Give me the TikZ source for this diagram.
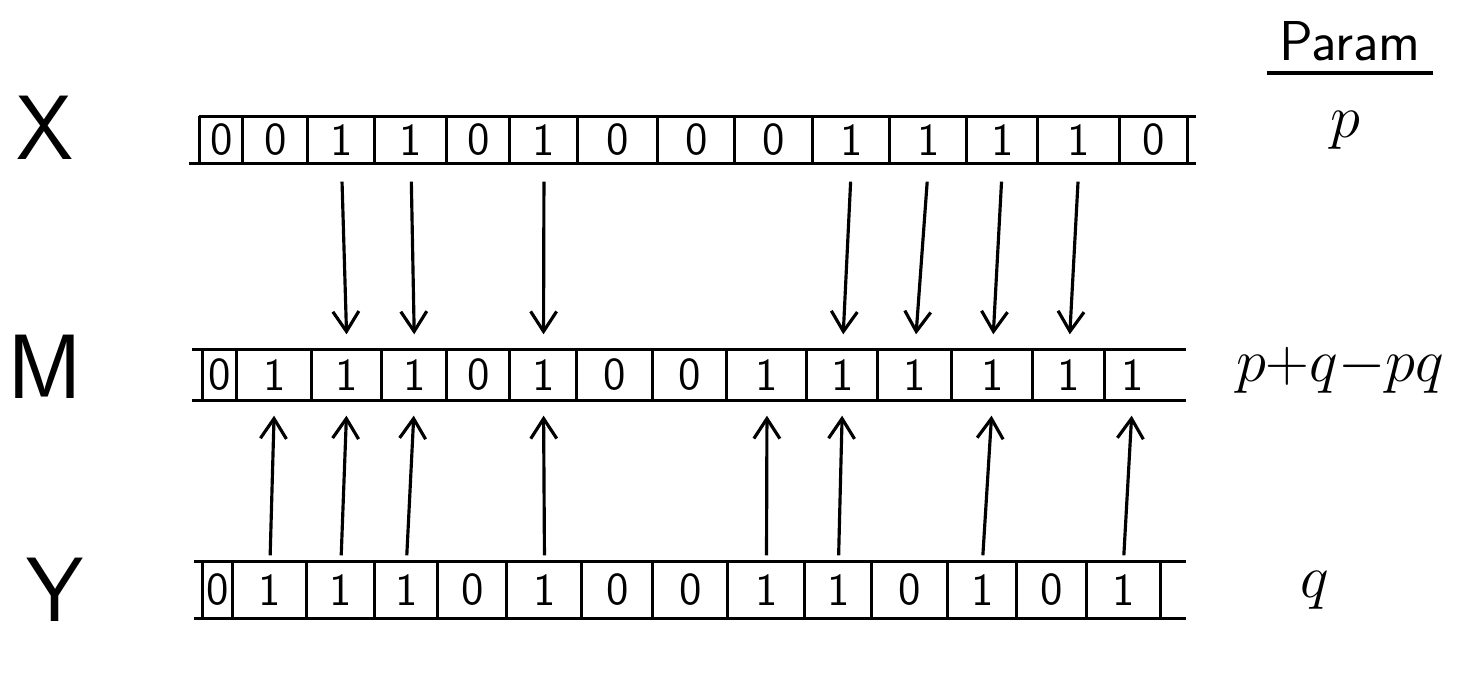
\documentclass[tikz,border=0pt]{standalone}
\usepackage{tikz}
\usetikzlibrary{arrows.meta, positioning, calc}

\begin{document}
\begin{tikzpicture}[
  cellnode/.style={inner sep=0pt, font=\fontsize{13}{15}\sffamily},
  band/.style={line width=0.9pt},
  rowname/.style={font=\fontsize{26}{30}\sffamily},
  parlabel/.style={font=\fontsize{17}{20}\selectfont},
  orarrow/.style={-{Straight Barb[length=2mm,width=2.6mm]}, line width=0.9pt}
]
  \useasboundingbox (0,0) rectangle (14.57,6.86);

  \node[rowname] (xname) at (0.45,5.58) {X};
  \node[rowname] (mname) at (0.45,3.19) {M};
  \node[rowname] (yname) at (0.55,0.96) {Y};

  \foreach \a/\b/\v [count=\i] in {2.00/2.43/0, 2.43/3.08/0, 3.08/3.75/1, 3.75/4.47/1, 4.47/5.10/0, 5.10/5.78/1, 5.78/6.58/0, 6.58/7.35/0, 7.35/8.13/0, 8.13/8.90/1, 8.90/9.67/1, 9.67/10.38/1, 10.38/11.20/1, 11.20/11.87/0} {
    \node[cellnode, minimum width={(\b-\a)*1cm}, minimum height=0.46cm] (x\i) at ({(\a+\b)/2},5.46) {\v};
    \draw[band] (x\i.north west) -- (x\i.south west);
  }
  \draw[band] (x14.north east) -- (x14.south east);
  \draw[band] (x1.north west) -- ([xshift=0.8mm]x14.north east);
  \draw[band] ([xshift=-1mm]x1.south west) -- ([xshift=0.8mm]x14.south east);

  \foreach \a/\b/\v [count=\i] in {2.03/2.37/0, 2.37/3.12/1, 3.12/3.82/1, 3.82/4.47/1, 4.47/5.10/0, 5.10/5.77/1, 5.77/6.53/0, 6.53/7.27/0, 7.27/8.07/1, 8.07/8.78/1, 8.78/9.52/1, 9.52/10.33/1, 10.33/11.05/1, 11.05/11.60/1} {
    \node[cellnode, minimum width={(\b-\a)*1cm}, minimum height=0.5cm] (m\i) at ({(\a+\b)/2},3.11) {\v};
    \draw[band] (m\i.north west) -- (m\i.south west);
  }
  \draw[band] ([xshift=-1mm]m1.north west) -- ([xshift=2.5mm]m14.north east);
  \draw[band] ([xshift=-1mm]m1.south west) -- ([xshift=2.5mm]m14.south east);

  \foreach \a/\b/\v [count=\i] in {2.03/2.33/0, 2.33/3.07/1, 3.07/3.75/1, 3.75/4.38/1, 4.38/5.07/0, 5.07/5.82/1, 5.82/6.53/0, 6.53/7.28/0, 7.28/8.05/1, 8.05/8.72/1, 8.72/9.48/0, 9.48/10.17/1, 10.17/10.87/0, 10.87/11.60/1} {
    \node[cellnode, minimum width={(\b-\a)*1cm}, minimum height=0.56cm] (y\i) at ({(\a+\b)/2},0.96) {\v};
    \draw[band] (y\i.north west) -- (y\i.south west);
  }
  \draw[band] (y14.north east) -- (y14.south east);
  \draw[band] ([xshift=-0.8mm]y1.north west) -- ([xshift=2.5mm]y14.north east);
  \draw[band] ([xshift=-0.8mm]y1.south west) -- ([xshift=2.5mm]y14.south east);

  \foreach \i in {3,4,6,10,11,12,13}
    \draw[orarrow, shorten <=1.8mm, shorten >=1.5mm] (x\i.south) -- (m\i.north);
  \foreach \i in {2,3,4,6,9,10,12,14}
    \draw[orarrow, shorten <=0.6mm, shorten >=1.5mm] (y\i.north) -- (m\i.south);

  \node[font=\fontsize{16}{19}\sffamily] (param) at (13.50,6.45) {Param};
  \draw[line width=1pt] (param.south west) -- (param.south east);
  \node[parlabel] (plab) at (13.45,5.56) {$p$};
  \node[parlabel, font=\fontsize{16}{19}\selectfont] (mlab) at (13.40,3.16) {$p{+}q{-}pq$};
  \node[parlabel] (qlab) at (13.15,0.96) {$q$};
\end{tikzpicture}
\end{document}
